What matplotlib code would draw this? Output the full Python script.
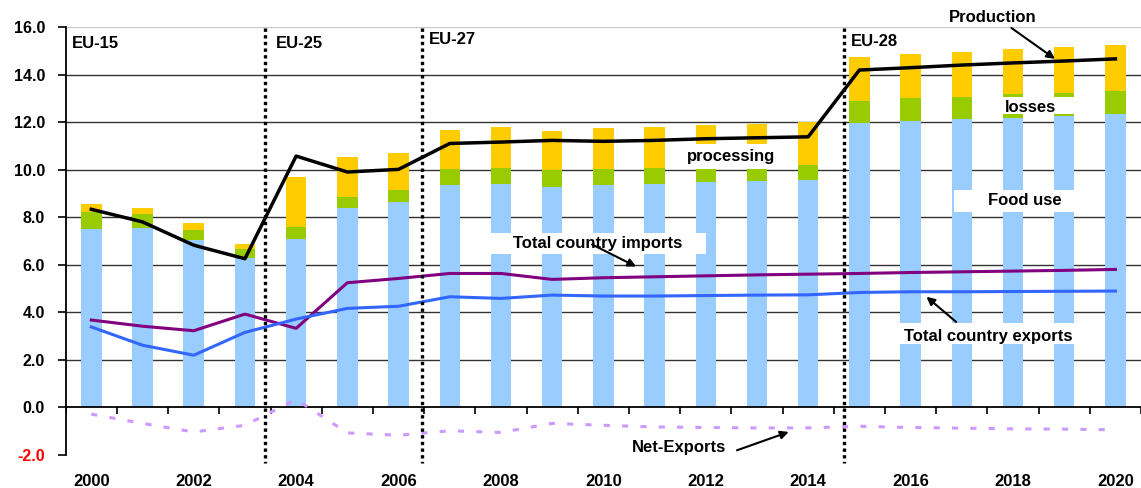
import numpy as np
import matplotlib
matplotlib.use("Agg")
import matplotlib.pyplot as plt
from matplotlib.patches import Rectangle

plt.rcParams['font.family'] = ['Liberation Sans', 'DejaVu Sans']
plt.rcParams['font.weight'] = 'bold'

years = list(range(2000, 2021))
food_use = [7.51, 7.55, 7.06, 6.30, 7.09, 8.39, 8.65, 9.36, 9.40, 9.28, 9.36,
            9.40, 9.50, 9.53, 9.57, 11.97, 12.05, 12.14, 12.18, 12.26, 12.35]
losses = [0.71, 0.59, 0.40, 0.37, 0.50, 0.47, 0.51, 0.67, 0.67, 0.72, 0.67,
          0.67, 0.58, 0.57, 0.63, 0.93, 0.97, 0.93, 1.01, 0.98, 0.97]
processing = [0.34, 0.26, 0.30, 0.23, 2.11, 1.68, 1.55, 1.65, 1.73, 1.63, 1.73,
              1.73, 1.80, 1.83, 1.80, 1.84, 1.85, 1.89, 1.90, 1.93, 1.93]
production = [8.34, 7.81, 6.83, 6.26, 10.58, 9.91, 10.02, 11.11, 11.17, 11.24, 11.20,
              11.24, 11.31, 11.35, 11.39, 14.20, 14.30, 14.41, 14.50, 14.58, 14.67]
imports = [3.68, 3.42, 3.23, 3.93, 3.33, 5.25, 5.43, 5.64, 5.64, 5.39, 5.46,
           5.50, 5.54, 5.58, 5.61, 5.64, 5.68, 5.71, 5.74, 5.77, 5.81]
exports = [3.39, 2.62, 2.20, 3.16, 3.72, 4.17, 4.26, 4.66, 4.59, 4.73, 4.69,
           4.69, 4.71, 4.73, 4.74, 4.84, 4.87, 4.87, 4.88, 4.89, 4.90]
net_exports = [-0.28, -0.67, -1.03, -0.75, 0.34, -1.07, -1.17, -0.98, -1.05, -0.67, -0.75,
               -0.82, -0.84, -0.86, -0.86, -0.79, -0.84, -0.87, -0.90, -0.91, -0.94]
eu_labels = ["EU-15", "EU-25", "EU-27", "EU-28"]
y_ticks = [-2.0, 0.0, 2.0, 4.0, 6.0, 8.0, 10.0, 12.0, 14.0, 16.0]

C_FOOD = "#99CCFF"
C_LOSS = "#99CC00"
C_PROC = "#FFCC00"

fig = plt.figure(figsize=(11.41, 4.88), dpi=100)
ax = fig.add_axes([0.0576, 0.0676, 0.9424, 0.8765])

x = np.arange(len(years))
food = np.array(food_use)
loss = np.array(losses)
proc = np.array(processing)

# stacked bars: food use, losses, processing
ax.bar(x, food, width=0.40, color=C_FOOD, zorder=2)
ax.bar(x, loss, width=0.40, bottom=food, color=C_LOSS, zorder=2)
ax.bar(x, proc, width=0.40, bottom=food + loss, color=C_PROC, zorder=2)

# white label panels over the bars
panels = [
    (11.47, 10.05, 2.05, 1.04),   # processing
    (17.52, 12.35, 1.85, 0.71),   # losses
    (16.84, 8.22, 2.40, 0.93),    # Food use
    (7.57, 6.48, 4.43, 0.87),     # Total country imports
    (15.57, 2.67, 3.80, 0.87),    # Total country exports
]
for (px, py, pw, ph) in panels:
    ax.add_patch(Rectangle((px, py), pw, ph, facecolor="white", edgecolor="none", zorder=3))

# lines
ax.plot(x, production, color="black", lw=2.5, zorder=5)
ax.plot(x, imports, color="#800080", lw=2.2, zorder=5)
ax.plot(x, exports, color="#3366FF", lw=2.2, zorder=5)
ax.plot(x, net_exports, color="#CC99FF", lw=2.2, dashes=(2, 4), zorder=5)

# gridlines
for v in y_ticks[2:-1]:
    ax.axhline(v, color="#333333", lw=1.0, zorder=1)
ax.axhline(16.0, color="#C8C8C8", lw=1.0, zorder=1)
ax.axhline(0.0, color="black", lw=1.3, zorder=4)
ax.vlines(np.arange(-0.5, len(years)), 0, -0.27, color="black", lw=1.2, zorder=4)

# enlargement breaks
for bx in [3.40, 6.46, 14.69]:
    ax.plot([bx, bx], [15.97, -2.35], color="black", lw=2.4, dashes=(1, 1),
            zorder=6, clip_on=False)

fs = 12
for lab, lx, ly in zip(eu_labels, [-0.38, 3.61, 6.60, 14.84], [15.30, 15.30, 15.47, 15.39]):
    ax.text(lx, ly, lab, ha="left", va="center", fontsize=fs, fontweight="bold", zorder=7)

ax.text(12.49, 10.58, "processing", ha="center", va="center", fontsize=fs, fontweight="bold", zorder=7)
ax.text(18.34, 12.64, "losses", ha="center", va="center", fontsize=fs, fontweight="bold", zorder=7)
ax.text(18.24, 8.69, "Food use", ha="center", va="center", fontsize=fs, fontweight="bold", zorder=7)

arrow = dict(arrowstyle="-|>", color="black", lw=1.5, mutation_scale=12, shrinkA=0, shrinkB=0)
ax.annotate("", xy=(18.82, 14.67), xytext=(17.97, 15.97), arrowprops=arrow, zorder=7,
            annotation_clip=False)
ax.text(17.60, 16.41, "Production", ha="center", va="center", fontsize=fs, fontweight="bold",
        zorder=7, clip_on=False)
ax.annotate("", xy=(10.64, 5.93), xytext=(9.78, 6.86), arrowprops=arrow, zorder=7)
ax.text(9.89, 6.92, "Total country imports", ha="center", va="center", fontsize=fs,
        fontweight="bold", zorder=7)
ax.annotate("", xy=(16.31, 4.66), xytext=(16.89, 3.60), arrowprops=arrow, zorder=7)
ax.text(17.52, 3.00, "Total country exports", ha="center", va="center", fontsize=fs,
        fontweight="bold", zorder=7)
ax.annotate("", xy=(13.62, -1.03), xytext=(12.61, -1.80), arrowprops=arrow, zorder=7)
ax.text(11.48, -1.67, "Net-Exports", ha="center", va="center", fontsize=fs,
        fontweight="bold", zorder=7)

# axes styling
ax.set_xlim(-0.5, len(years) - 0.5)
ax.set_ylim(-2, 16)
for s in ["top", "right", "bottom"]:
    ax.spines[s].set_visible(False)
ax.spines["left"].set_linewidth(1.3)
ax.spines["left"].set_zorder(4)

ax.set_yticks(y_ticks)
ax.set_yticklabels([f"{v:.1f}" for v in y_ticks], fontsize=11.5, fontweight="bold")
ax.get_yticklabels()[0].set_color("red")
ax.tick_params(axis="y", direction="out", length=6, width=1.2, pad=9)

even = [i for i, yr in enumerate(years) if yr % 2 == 0]
ax.set_xticks(even)
ax.set_xticklabels([str(years[i]) for i in even], fontsize=12, fontweight="bold")
ax.tick_params(axis="x", length=0, pad=14)

fig.savefig("out.png", dpi=100, facecolor="white")
